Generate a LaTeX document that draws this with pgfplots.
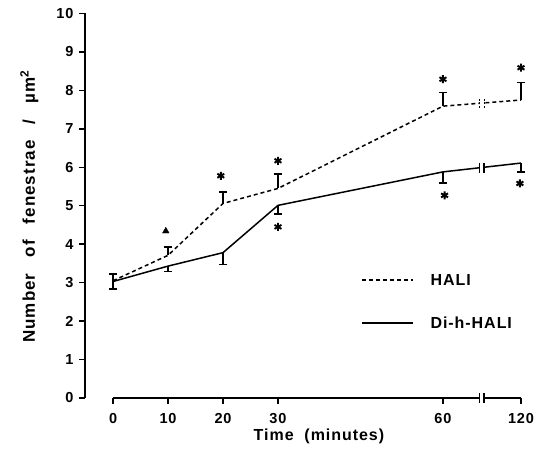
\documentclass[border=0pt]{standalone}
\usepackage{pgfplots}
\pgfplotsset{compat=1.18}
\usepackage{fontspec}
\setmainfont{Liberation Sans}[LetterSpace=6]
\begin{document}
\begin{tikzpicture}[font=\bfseries]
\begin{axis}[
 scale only axis, width=436pt, height=384.5pt,
 xmin=-5.1, xmax=74.2, ymin=0, ymax=10,
 axis lines=left, axis line style={-, line width=1.4pt},
 x axis line style={draw=none},
 tick align=outside, major tick length=6pt,
 tick style={line width=1.4pt, black},
 xtick={0,10,20,30,60,74.2}, xticklabels={0,10,20,30,60,120},
 ytick={0,1,...,10},
 /pgf/number format/assume math mode=true,
 tick label style={font=\bfseries\fontsize{14.5}{16}\selectfont},
 xticklabel style={yshift=-6pt},
 yticklabel style={xshift=-2pt},
 clip=false,
 xlabel={Time\ \ (minutes)},
 ylabel={Number\hspace{0.95em}of\hspace{0.95em}fenestrae\hspace{0.95em}/\hspace{0.95em}µm\textsuperscript{2}},
 x label style={at={(axis cs:37.45,-1.0)}, anchor=center, font=\bfseries\fontsize{16}{18}\selectfont},
 y label style={at={(axis cs:-15.2,4.98)}, anchor=center, font=\bfseries\fontsize{17}{19}\selectfont},
]
% HALI
\addplot[black, line width=1.5pt, dash pattern=on 4pt off 3pt,
  error bars/.cd, y dir=plus, y explicit,
  error bar style={solid, line width=1.5pt},
  error mark options={rotate=90, mark size=4pt, solid, line width=1.5pt}]
 coordinates {(0,3.05) +- (0,0.17) (10,3.71) +- (0,0.22) (20,5.06) +- (0,0.30)
   (30,5.45) +- (0,0.37) (60,7.59) +- (0,0.35) (74.2,7.75) +- (0,0.45)};
% Di-h-HALI
\addplot[black, line width=1.5pt,
  error bars/.cd, y dir=minus, y explicit,
  error bar style={solid, line width=1.5pt},
  error mark options={rotate=90, mark size=4pt, solid, line width=1.5pt}]
 coordinates {(0,3.03) +- (0,0.2) (10,3.43) +- (0,0.14) (20,3.78) +- (0,0.31)
   (30,5.01) +- (0,0.23) (60,5.88) +- (0,0.29) (74.2,6.11) +- (0,0.23)};
% significance marks
\addplot[only marks, mark=asterisk, mark size=4pt, line width=1.9pt, black]
 coordinates {(19.6,5.78) (30,6.17) (60,8.29) (74.2,8.59) (30,4.45) (60.3,5.27) (74.0,5.58)};
\addplot[only marks, mark=triangle*, mark size=3.8pt, black]
 coordinates {(9.6,4.34)};
% x axis with break
\draw[line width=1.4pt] (axis cs:0,0) -- (axis cs:66.7,0);
\draw[line width=1.4pt] (axis cs:67.5,0) -- (axis cs:74.2,0);
\draw[line width=1.4pt] ([yshift=-5pt]axis cs:66.7,0) -- ([yshift=5pt]axis cs:66.7,0);
\draw[line width=1.4pt] ([yshift=-5pt]axis cs:67.5,0) -- ([yshift=5pt]axis cs:67.5,0);
% breaks on the curves
\fill[white] ([yshift=-3pt]axis cs:66.75,7.67) rectangle ([yshift=3pt]axis cs:67.45,7.67);
\draw[line width=1.1pt, dash pattern=on 2pt off 1.5pt] ([yshift=-4.5pt]axis cs:66.7,7.67) -- ([yshift=4.5pt]axis cs:66.7,7.67);
\draw[line width=1.1pt, dash pattern=on 2pt off 1.5pt] ([yshift=-4.5pt]axis cs:67.5,7.67) -- ([yshift=4.5pt]axis cs:67.5,7.67);
\fill[white] ([yshift=-3pt]axis cs:66.75,5.99) rectangle ([yshift=3pt]axis cs:67.45,5.99);
\draw[line width=1.4pt] ([yshift=-5pt]axis cs:66.7,5.99) -- ([yshift=5pt]axis cs:66.7,5.99);
\draw[line width=1.4pt] ([yshift=-5pt]axis cs:67.5,5.99) -- ([yshift=5pt]axis cs:67.5,5.99);
% legend
\draw[black, line width=1.5pt, dash pattern=on 4pt off 3pt] (axis cs:45.3,3.07) -- (axis cs:54.5,3.07);
\node[anchor=west, font=\bfseries\fontsize{16}{18}\selectfont] at (axis cs:57.1,3.07) {HALI};
\draw[black, line width=1.5pt] (axis cs:45.3,1.95) -- (axis cs:54.5,1.95);
\node[anchor=west, font=\bfseries\fontsize{16}{18}\selectfont] at (axis cs:57.1,1.95) {Di-h-HALI};
\end{axis}
\pgfresetboundingbox
\path ([shift={(-85pt,-64pt)}]current axis.south west) rectangle ([shift={(453pt,398pt)}]current axis.south west);
\end{tikzpicture}
\end{document}
